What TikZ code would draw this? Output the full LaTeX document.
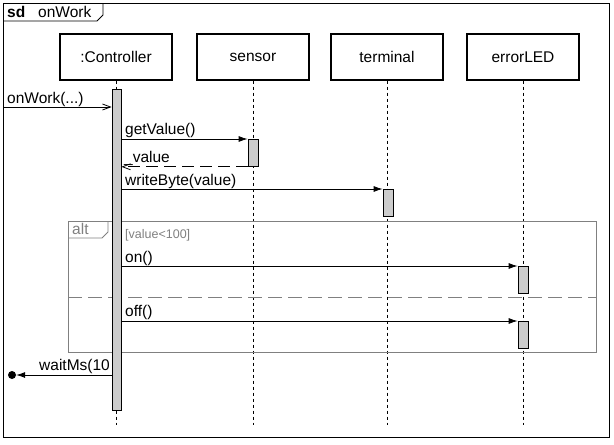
\documentclass[tikz,border=0pt]{standalone}
\usepackage{fontspec}
\setmainfont{Liberation Sans}
\usetikzlibrary{arrows.meta}
\definecolor{actgray}{gray}{0.8}
\definecolor{frgray}{gray}{0.5}
\tikzset{
  lbl/.style={font=\fontsize{15.5}{17}\selectfont, inner sep=0pt, anchor=base west},
  head/.style={draw, line width=1.4pt, minimum width=112pt, minimum height=46pt, font=\fontsize{15.5}{17}\selectfont, inner sep=0pt},
  lifeline/.style={dash pattern=on 3pt off 3pt, line width=0.8pt},
  act/.style={draw, fill=actgray, line width=0.8pt},
  msg/.style={line width=0.8pt, -{Latex[length=9pt,width=6pt]}},
  ret/.style={line width=0.8pt, dash pattern=on 12pt off 6pt, -{Straight Barb[length=8pt,width=6pt]}},
  fr/.style={draw=frgray, line width=0.8pt},
}
\begin{document}
\begin{tikzpicture}[x=1pt,y=-1pt]
\useasboundingbox (0,0) rectangle (614,445);
% outer frame
\draw[line width=0.8pt] (3,3) rectangle (609,437);
\draw[line width=0.8pt] (3,21) -- (97,21) -- (103,15) -- (103,3);
\node[lbl, font=\fontsize{15.5}{17}\selectfont\bfseries] (sd) at (7,17) {sd};
\node[lbl] (sdname) at (38,17) {onWork};
% heads
\node[head] (ctrl) at (116,57) {:Controller};
\node[head] (sens) at (253,57) {sensor};
\node[head] (term) at (387,57) {terminal};
\node[head] (led) at (523,57) {errorLED};
% lifelines
\coordinate (ctrlE) at (116,425);
\coordinate (sensE) at (253,425);
\coordinate (termE) at (387,425);
\coordinate (ledE) at (523,425);
\draw[lifeline] (ctrl.south) -- (ctrlE);
\draw[lifeline] (sens.south) -- (sensE);
\draw[lifeline] (term.south) -- (termE);
\draw[lifeline] (led.south) -- (ledE);
% alt frame
\draw[fr] (68,221) rectangle (596,352);
\draw[fr] (68,238) -- (102,238) -- (108,232) -- (108,221);
\node[lbl, text=frgray] (altl) at (72,234) {alt};
\node[lbl, text=frgray, font=\fontsize{12.5}{14}\selectfont] (guard) at (125,238) {[value<100]};
\draw[draw=frgray, line width=0.8pt, dash pattern=on 14pt off 6pt] (68,297) -- (596,297);
% activations
\node[act, minimum width=9pt, minimum height=321pt, inner sep=0pt, anchor=north] (actC) at (116.5,89) {};
\node[act, minimum width=10pt, minimum height=27pt, inner sep=0pt, anchor=north] (actS) at (253,139) {};
\node[act, minimum width=10pt, minimum height=27pt, inner sep=0pt, anchor=north] (actT) at (388,189) {};
\node[act, minimum width=10pt, minimum height=27pt, inner sep=0pt, anchor=north] (actL1) at (523,266) {};
\node[act, minimum width=10pt, minimum height=27pt, inner sep=0pt, anchor=north] (actL2) at (523,321) {};
% onWork
\coordinate (start) at (3,107);
\draw[line width=0.8pt, -{Straight Barb[length=8pt,width=6pt]}] (start) -- (actC.west |- start);
\node[lbl] (lonwork) at (7,103) {onWork(...)};
% getValue
\draw[msg] (actC.east |- actS.north) -- (actS.north west);
\node[lbl] (lget) at (125,134) {getValue()};
% return value
\draw[ret] (actS.south west) -- (actC.east |- actS.south);
\node[lbl] (lval) at (124,162) {\_value};
% writeByte
\draw[msg] (actC.east |- actT.north) -- (actT.north west);
\node[lbl] (lwrite) at (125,185) {writeByte(value)};
% on
\draw[msg] (actC.east |- actL1.north) -- (actL1.north west);
\node[lbl] (lon) at (125,262) {on()};
% off
\draw[msg] (actC.east |- actL2.north) -- (actL2.north west);
\node[lbl] (loff) at (125,316) {off()};
% waitMs lost message
\node[circle, fill=black, minimum size=8pt, inner sep=0pt] (lost) at (12,375) {};
\draw[msg] (actC.west |- lost) -- (lost.east);
\node[lbl] (lwait) at (39,370) {waitMs(10};
\end{tikzpicture}
\end{document}
